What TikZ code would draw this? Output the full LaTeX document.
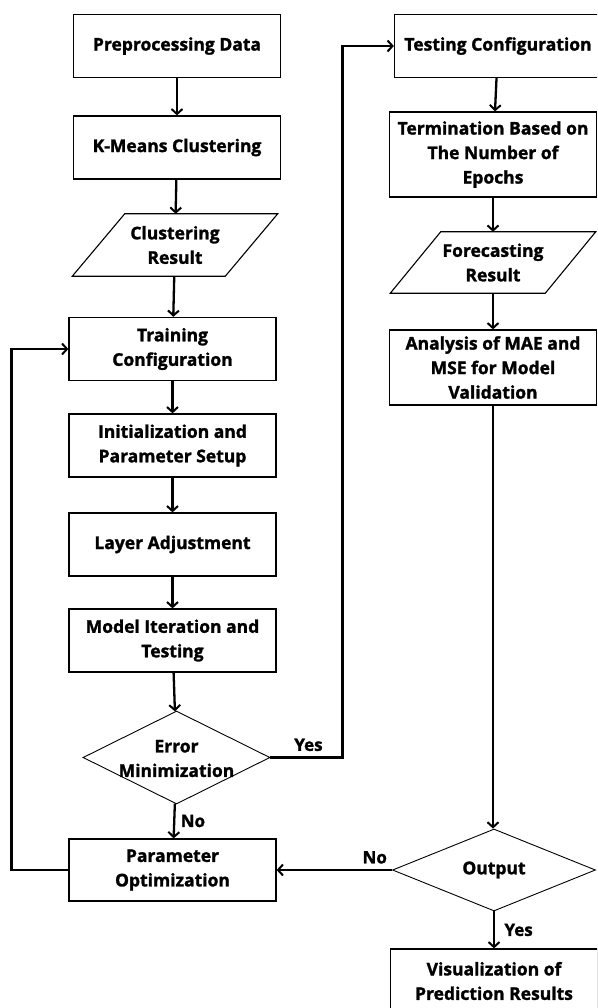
\documentclass[tikz,border=0pt]{standalone}
\usepackage{fontspec}
\setmainfont{Open Sans}[BoldFeatures={FakeBold=1.5}]
\usepackage{tikz}
\usetikzlibrary{arrows.meta,positioning,shapes.geometric}

\tikzset{
  box/.style={draw, line width=1.3pt, minimum width=207pt, minimum height=63pt, align=center, inner sep=4pt},
  io/.style={minimum width=205pt, minimum height=62pt, align=center, inner sep=0pt},
  slant/.style={line width=1.1pt, line join=miter},
  decision/.style={draw, line width=0.9pt, diamond, inner sep=0pt},
  flow/.style={line width=2.3pt, -{Straight Barb[length=5pt,width=11pt,line width=2pt]}},
  tag/.style={font=\fontsize{17}{20}\selectfont\bfseries}
}

\begin{document}
\begin{tikzpicture}[x=1pt, y=-1pt, font=\fontsize{17.5}{24.5}\selectfont\bfseries]
	\clip (0,0) rectangle (597,1008);
	\fill[white] (0,0) rectangle (597,1008);

	% left column
	\node[box] (prep) at (177,46) {Preprocessing Data};
	\node[box, below of=prep, node distance=101.5pt] (kmeans) {K-Means Clustering};
	\node[io, below of=kmeans, node distance=97.5pt, xshift=-2pt] (clus) {Clustering\\Result};
	\node[box] (train) at (172.5,349) {Training\\Configuration};
	\node[box, below of=train, node distance=96.5pt] (init) {Initialization and\\Parameter Setup};
	\node[box, below of=init, node distance=99pt] (layer) {Layer Adjustment};
	\node[box, below of=layer, node distance=96pt] (model) {Model Iteration and\\Testing};
	\node[decision, minimum width=187pt, minimum height=93pt, label={[align=center, yshift=-1pt]center:Error\\Minimization}] (err) at (176.5,757.5) {};
	\node[box, minimum height=62pt] (popt) at (172.5,870) {Parameter\\Optimization};

	% right column
	\node[box] (test) at (498,46) {Testing Configuration};
	\node[box, minimum height=85pt] (term) at (493,154.5) {Termination Based on\\The Number of\\Epochs};
	\node[io, minimum height=61pt, below of=term, node distance=108pt] (fore) {Forecasting\\Result};
	\node[box, minimum height=75pt, below of=fore, node distance=105pt] (ana) {Analysis of MAE and\\MSE for Model\\Validation};
	\node[decision, minimum width=203pt, minimum height=82pt, label=center:Output] (out) at (494,870) {};
	\node[box, minimum height=64pt, below of=out, node distance=111pt] (vis) {Visualization of\\Prediction Results};

	% parallelograms round the two result nodes
	\draw[slant] (clus.south west) -- ++(153,0) -- (clus.north east) -- ++(-153,0) -- cycle;
	\draw[slant] (fore.south west) -- ++(155,0) -- (fore.north east) -- ++(-155,0) -- cycle;

	\draw[flow] (prep)--(kmeans);
	\draw[flow] (kmeans)--(clus);
	\draw[flow] (clus)--(train);
	\draw[flow] (train)--(init);
	\draw[flow] (init)--(layer);
	\draw[flow] (layer)--(model);
	\draw[flow] (model)--(err);
	\draw[flow] (err)--node[tag, right=2pt]{No}(popt);
	\draw[flow] (err.east)--node[tag, above=2pt, xshift=2pt]{Yes}++(72,0) |- (test.west);
	\draw[flow] (popt.west)--++(-57,0) |- (train.west);
	\draw[flow] (test)--(term);
	\draw[flow] (term)--(fore);
	\draw[flow] (fore)--(ana);
	\draw[flow] (ana.south)--(ana.south|-out.north);
	\draw[flow] (out.west)--node[tag, above=2pt, pos=0.15]{No}(popt.east);
	\draw[flow] (out)--node[tag, right=6pt]{Yes}(vis);
\end{tikzpicture}
\end{document}
